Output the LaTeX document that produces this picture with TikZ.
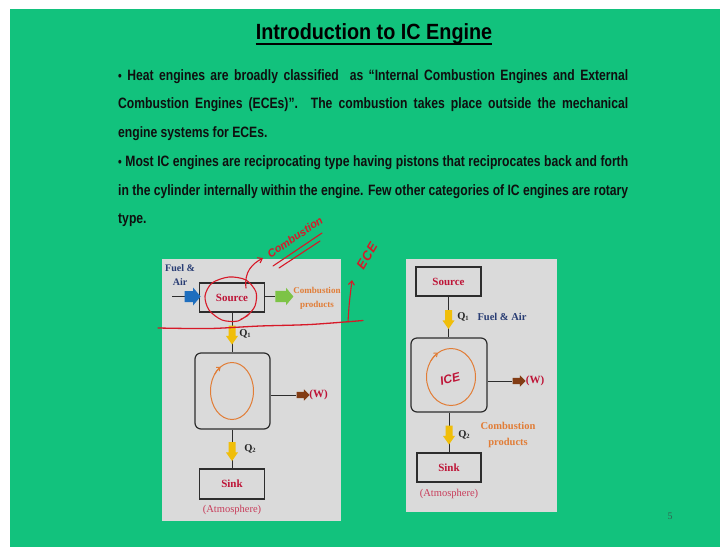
\documentclass[tikz,border=0pt]{standalone}
\usepackage{fontspec}
\setmainfont{Liberation Serif}
\newfontfamily\sansf[FakeStretch=0.81]{Liberation Sans}
\newfontfamily\titlef[FakeStretch=0.9]{Liberation Sans}
\newfontfamily\handf{Liberation Sans}
\usetikzlibrary{shapes.arrows,arrows.meta}
\definecolor{bggreen}{RGB}{18,194,125}
\definecolor{panel}{RGB}{218,218,218}
\definecolor{srcred}{RGB}{190,20,55}
\definecolor{atmred}{RGB}{200,60,90}
\definecolor{navy}{RGB}{40,60,115}
\definecolor{orangetxt}{RGB}{225,125,55}
\definecolor{yell}{RGB}{240,190,10}
\definecolor{bluearr}{RGB}{30,110,190}
\definecolor{greenarr}{RGB}{125,195,70}
\definecolor{brownarr}{RGB}{130,60,20}
\definecolor{cyclecol}{RGB}{225,125,55}
\definecolor{pen}{RGB}{215,25,40}
\definecolor{boxline}{RGB}{45,45,45}
\definecolor{bodytext}{RGB}{15,15,15}
\definecolor{pagenum}{RGB}{50,100,80}
\begin{document}
\begin{tikzpicture}[x=1pt,y=-1pt,
  box/.style={draw=boxline, line width=1.2pt, inner sep=0pt,
    font=\bfseries\fontsize{11}{12}\selectfont, text=srcred},
  conn/.style={draw=boxline, line width=1pt},
  blk/.style={single arrow, draw=none},
  yarrow/.style={blk, fill=yell, inner sep=3pt,
    minimum height=19pt, single arrow head extend=2.5pt,
    single arrow tip angle=70, shape border rotate=270},
  barrow/.style={blk, fill=bluearr, inner sep=5pt,
    minimum height=16pt, single arrow head extend=3.5pt,
    single arrow tip angle=100},
  garrow/.style={blk, fill=greenarr, inner sep=5.5pt,
    minimum height=18pt, single arrow head extend=3pt,
    single arrow tip angle=100},
  warrow/.style={blk, fill=brownarr, inner sep=3pt,
    minimum height=13pt, single arrow head extend=2.5pt,
    single arrow tip angle=90},
  qlab/.style={font=\bfseries\fontsize{10.5}{12}\selectfont, text=black!85, inner sep=0pt},
  wlab/.style={font=\bfseries\fontsize{11}{12}\selectfont, text=srcred, inner sep=0pt},
  atm/.style={font=\fontsize{10.5}{12}\selectfont, text=atmred, inner sep=0pt},
  bodyline/.style={anchor=base west, inner sep=0pt, text=bodytext,
    font=\sansf\bfseries\fontsize{15}{16}\selectfont},
  penline/.style={draw=pen, line width=1.1pt, line cap=round, line join=round},
  hand/.style={text=pen, inner sep=0pt, font=\handf\itshape\bfseries\fontsize{11}{12}\selectfont}
]
\useasboundingbox (0,0) rectangle (720,547);
\fill[white] (0,0) rectangle (720,547);
\fill[bggreen] (10,9) rectangle (720,547);

% title
\node[inner sep=0pt, font=\titlef\bfseries\fontsize{22}{24}\selectfont, text=black] (title) at (374,34) {Introduction to IC Engine};
\draw[line width=1.8pt] ([yshift=-4pt]title.base west) -- ([yshift=-4pt]title.base east);

% body text
\node[bodyline] (l1) at (118,80) {\makebox[510pt][s]{{\fontsize{13}{13}\selectfont•} Heat engines are broadly classified\ \ as “Internal Combustion Engines and External}};
\node[bodyline] (l2) at (118,108.5) {\makebox[510pt][s]{Combustion Engines (ECEs)”. The combustion takes place outside the mechanical}};
\node[bodyline] (l3) at (118,137) {engine systems for ECEs.};
\node[bodyline] (l4) at (118,166) {\makebox[510pt][s]{{\fontsize{13}{13}\selectfont•} Most IC engines are reciprocating type having pistons that reciprocates back and forth}};
\node[bodyline] (l5) at (118,195) {\makebox[510pt][s]{in the cylinder internally within the engine. Few other categories of IC engines are rotary}};
\node[bodyline] (l6) at (118,223.5) {type.};

% panels
\fill[panel] (162,259) rectangle (341,521);
\fill[panel] (406,259) rectangle (557,512);

% ---------- left diagram ----------
\node[box, minimum width=65pt, minimum height=29pt] (lsrc) at (232,297.5) {Source};
\node[box, rounded corners=6pt, minimum width=75pt, minimum height=76pt] (leng) at (232.5,391) {};
\node[box, minimum width=65pt, minimum height=30pt] (lsink) at (232,484) {Sink};
\node[atm] (latm) at (232,510) {(Atmosphere)};
\node[inner sep=0pt, align=center, text=navy, font=\bfseries\fontsize{10}{14}\selectfont] (lfuel) at (180,275) {Fuel \&\\Air};
\coordinate (lin) at (172,296.5);
\draw[conn] (lin) -- node[barrow, pos=0.68] (lblue) {} (lsrc.west |- lin);
\node[garrow] (lgreen) at (282,296.5) {};
\draw[conn] (lsrc.east |- lgreen.west) -- (lgreen.west);
\node[inner sep=0pt, align=center, text=orangetxt, font=\bfseries\fontsize{9}{14}\selectfont] (lprod) at (317,298) {Combustion\\products};
\draw[conn] (lsrc.south) -- node[yarrow, pos=0.5] (lq1a) {} (leng.north -| lsrc.south);
\node[qlab] (lq1) at (245,334) {Q\raisebox{-1pt}{\fontsize{6.5}{6}\selectfont 1}};
\node[warrow] (lwarr) at (301.5,395) {};
\draw[conn] (leng.east |- lwarr.west) -- (lwarr.west);
\node[wlab] (lw) at (318.5,395) {(W)};
\draw[conn] (leng.south -| lsink.north) -- node[yarrow, pos=0.5] (lq2a) {} (lsink.north);
\node[qlab] (lq2) at (250,449) {Q\raisebox{-1pt}{\fontsize{6.5}{6}\selectfont 2}};
\draw[cyclecol, line width=1pt] (232,391) ellipse [x radius=21.5, y radius=28.5];
\draw[cyclecol, line width=1pt, -{Straight Barb[length=3pt,width=5pt]}] ([shift={(215:21.5 and 28.5)}]232,391) arc[start angle=215, end angle=238, x radius=21.5, y radius=28.5];

% ---------- right diagram ----------
\node[box, minimum width=65pt, minimum height=29pt] (rsrc) at (448.5,281.5) {Source};
\node[box, rounded corners=6pt, minimum width=76pt, minimum height=74pt] (reng) at (449,375) {};
\node[box, minimum width=64pt, minimum height=29pt] (rsink) at (449,467.5) {Sink};
\node[atm] (ratm) at (449,494) {(Atmosphere)};
\draw[conn] (rsrc.south) -- node[yarrow, pos=0.5] (rq1a) {} (reng.north -| rsrc.south);
\node[qlab] (rq1) at (463,317) {Q\raisebox{-1pt}{\fontsize{6.5}{6}\selectfont 1}};
\node[inner sep=0pt, text=navy, font=\bfseries\fontsize{10.5}{12}\selectfont] (rfuel) at (502,317) {Fuel \& Air};
\node[warrow] (rwarr) at (517.5,381) {};
\draw[conn] (reng.east |- rwarr.west) -- (rwarr.west);
\node[wlab] (rw) at (535,381) {(W)};
\draw[conn] (reng.south) -- node[yarrow, pos=0.5] (rq2a) {} (rsink.north);
\node[qlab] (rq2) at (464,435) {Q\raisebox{-1pt}{\fontsize{6.5}{6}\selectfont 2}};
\node[inner sep=0pt, align=center, text=orangetxt, font=\bfseries\fontsize{10.5}{16}\selectfont] (rprod) at (508,435) {Combustion\\products};
\draw[cyclecol, line width=1pt] (451,377) ellipse [x radius=24.5, y radius=28.5];
\draw[cyclecol, line width=1pt, -{Straight Barb[length=3pt,width=5pt]}] ([shift={(215:24.5 and 28.5)}]451,377) arc[start angle=215, end angle=238, x radius=24.5, y radius=28.5];
\node[hand, rotate=15, font=\handf\itshape\bfseries\fontsize{12}{13}\selectfont, text=srcred] (ice) at (450,379) {ICE};

% ---------- hand annotations ----------
\draw[penline] plot[smooth] coordinates {(250,313) (238,321) (222,320) (209,310) (205,296) (212,283) (229,277) (246,280) (256,292) (255,306) (247,316) (241,319)};
\draw[penline, -{Straight Barb[length=4pt,width=6pt]}] (246,288) .. controls (244,272) and (252,264) .. (263,258);
\node[hand, rotate=34] (comb) at (295,237) {Combustion};
\draw[penline] (273,266) -- (322,233);
\draw[penline] (279,268) -- (320,241);
\draw[penline, line width=1.3pt] plot[smooth] coordinates {(158,328) (210,328.5) (260,326) (310,324.5) (363,320.5)};
\draw[penline, -{Straight Barb[length=4pt,width=6pt]}] (348,322) .. controls (349,305) .. (352,280);
\node[hand, rotate=60, font=\handf\itshape\bfseries\fontsize{13}{14}\selectfont] (ece) at (367,256) {E\kern1pt C\kern1pt E};

% page number
\node[inner sep=0pt, text=pagenum, font=\fontsize{10}{12}\selectfont] (pg) at (670,516) {5};
\end{tikzpicture}
\end{document}
